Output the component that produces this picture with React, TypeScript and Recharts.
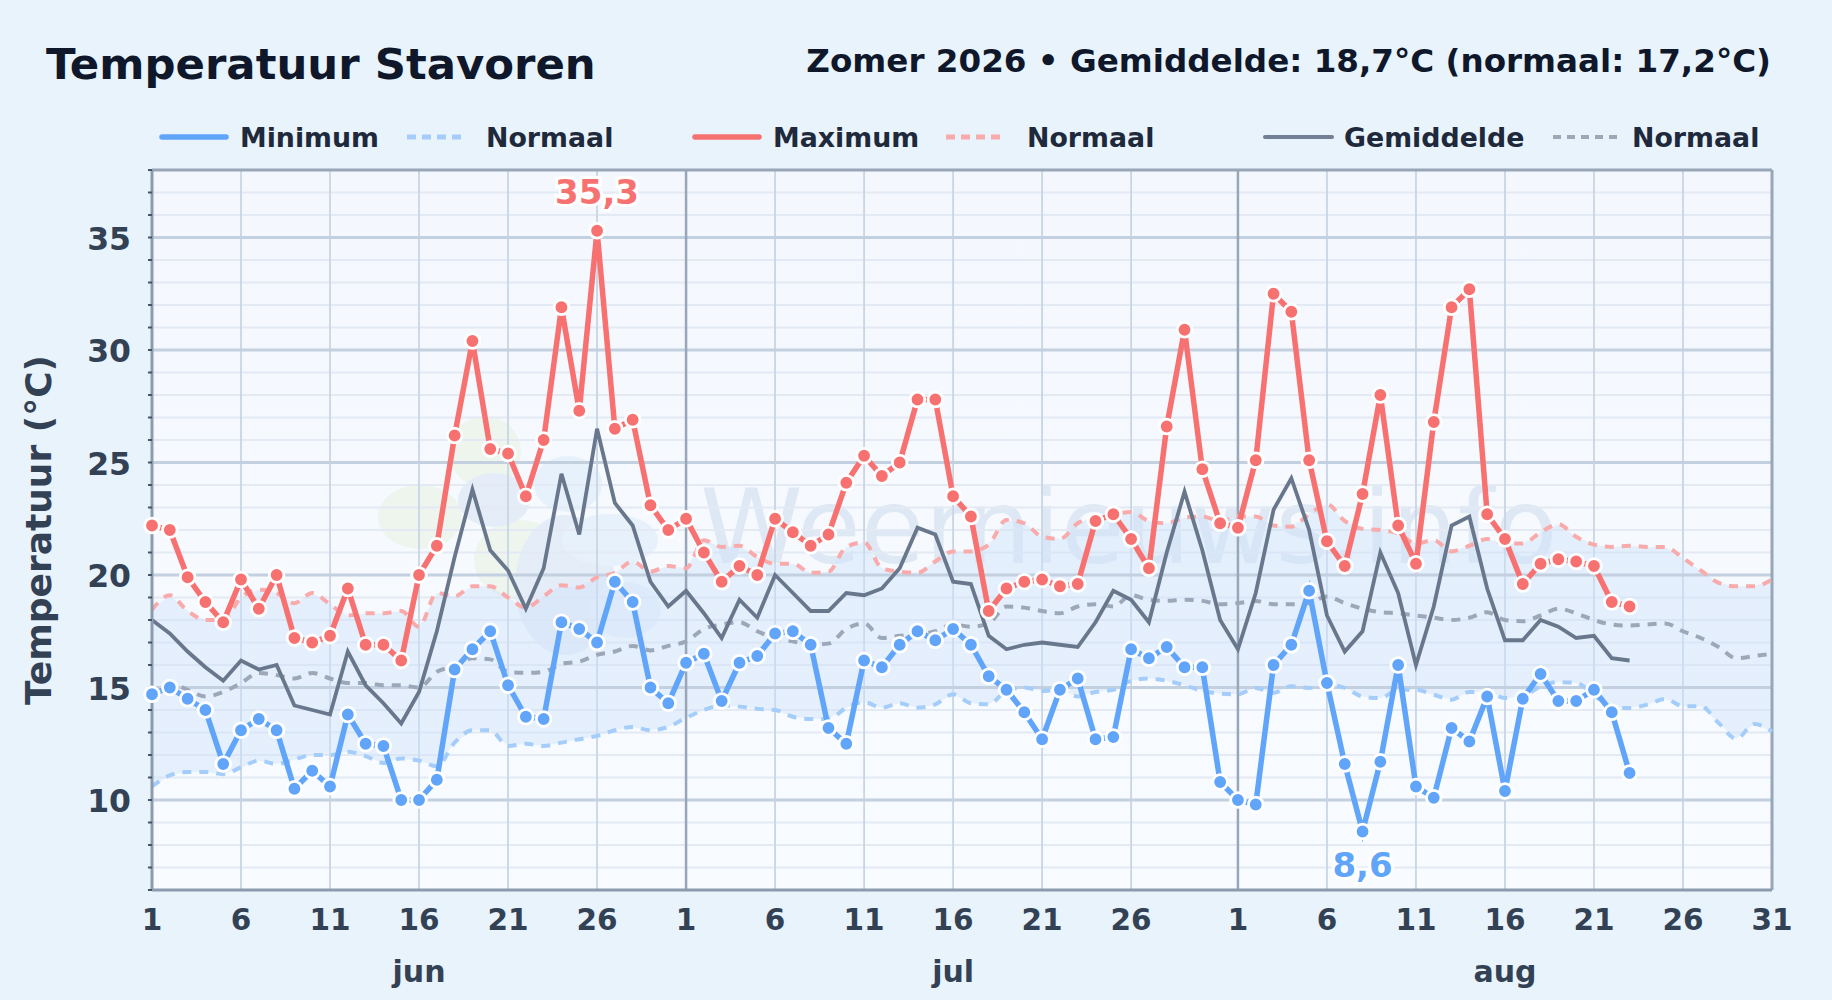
import React from "react";
import { ComposedChart, Area, Line, XAxis, YAxis, CartesianGrid, ReferenceLine } from "recharts";

const FONT = '"DejaVu Sans", sans-serif';

const minValues = [
  14.7, 15.0, 14.5, 14.0, 11.6, 13.1, 13.6, 13.1, 10.5, 11.3, 10.6, 13.8, 12.5, 12.4, 10.0, 10.0, 10.9, 15.8, 16.7, 17.5, 15.1, 13.7, 13.6, 17.9, 17.6, 17.0, 19.7, 18.8, 15.0, 14.3,
  16.1, 16.5, 14.4, 16.1, 16.4, 17.4, 17.5, 16.9, 13.2, 12.5, 16.2, 15.9, 16.9, 17.5, 17.1, 17.6, 16.9, 15.5, 14.9, 13.9, 12.7, 14.9, 15.4, 12.7, 12.8, 16.7, 16.3, 16.8, 15.9, 15.9, 10.8,
  10.0, 9.8, 16.0, 16.9, 19.3, 15.2, 11.6, 8.6, 11.7, 16.0, 10.6, 10.1, 13.2, 12.6, 14.6, 10.4, 14.5, 15.6, 14.4, 14.4, 14.9, 13.9, 11.2,
  null, null, null, null, null, null, null, null,
];
const maxValues = [
  22.2, 22.0, 19.9, 18.8, 17.9, 19.8, 18.5, 20.0, 17.2, 17.0, 17.3, 19.4, 16.9, 16.9, 16.2, 20.0, 21.3, 26.2, 30.4, 25.6, 25.4, 23.5, 26.0, 31.9, 27.3, 35.3, 26.5, 26.9, 23.1, 22.0,
  22.5, 21.0, 19.7, 20.4, 20.0, 22.5, 21.9, 21.3, 21.8, 24.1, 25.3, 24.4, 25.0, 27.8, 27.8, 23.5, 22.6, 18.4, 19.4, 19.7, 19.8, 19.5, 19.6, 22.4, 22.7, 21.6, 20.3, 26.6, 30.9, 24.7, 22.3,
  22.1, 25.1, 32.5, 31.7, 25.1, 21.5, 20.4, 23.6, 28.0, 22.2, 20.5, 26.8, 31.9, 32.7, 22.7, 21.6, 19.6, 20.5, 20.7, 20.6, 20.4, 18.8, 18.6,
  null, null, null, null, null, null, null, null,
];
const meanValues = [
  18.0, 17.4, 16.6, 15.9, 15.3, 16.2, 15.8, 16.0, 14.2, 14.0, 13.8, 16.6, 15.1, 14.3, 13.4, 14.8, 17.5, 20.8, 23.8, 21.1, 20.2, 18.5, 20.3, 24.5, 21.8, 26.5, 23.2, 22.2, 19.7, 18.6,
  19.3, 18.3, 17.2, 18.9, 18.1, 20.0, 19.2, 18.4, 18.4, 19.2, 19.1, 19.4, 20.3, 22.1, 21.8, 19.7, 19.6, 17.3, 16.7, 16.9, 17.0, 16.9, 16.8, 17.9, 19.3, 18.9, 17.9, 21.0, 23.7, 21.1, 18.0,
  16.7, 19.2, 22.9, 24.3, 22.0, 18.2, 16.6, 17.5, 21.0, 19.2, 16.0, 18.6, 22.2, 22.6, 19.4, 17.1, 17.1, 18.0, 17.7, 17.2, 17.3, 16.3, 16.2,
  null, null, null, null, null, null, null, null,
];
const normalMin = [
  10.6, 11.1, 11.25, 11.25, 11.15, 11.45, 11.75, 11.6, 11.8, 12.0, 12.0, 12.15, 11.95, 11.65, 11.85, 11.75, 11.5, 12.55, 13.1, 13.1, 12.4, 12.5, 12.4, 12.55, 12.7, 12.85, 13.1, 13.25, 13.1, 13.25,
  13.65, 14.0, 14.2, 14.15, 14.05, 14.0, 13.7, 13.6, 13.6, 14.1, 14.35, 14.1, 14.3, 14.1, 14.25, 14.7, 14.3, 14.25, 14.85, 15.0, 14.85, 14.9, 14.6, 14.8, 14.9, 15.3, 15.4, 15.3, 15.1, 14.85, 14.73,
  14.7, 14.98, 14.76, 15.06, 14.98, 15.13, 14.98, 14.6, 14.53, 14.9, 14.9, 14.68, 14.46, 14.8, 14.8, 14.53, 14.6, 15.06, 15.24, 15.2, 14.68, 14.09, 14.09, 14.24, 14.49, 14.17, 14.17, 13.42, 12.72, 13.38, 13.05,
];
const normalMax = [
  18.46, 19.1, 18.4, 18.0, 18.0, 19.0, 19.35, 19.2, 18.75, 19.2, 18.7, 18.2, 18.3, 18.3, 18.4, 17.7, 19.2, 19.05, 19.5, 19.5, 19.0, 18.55, 19.05, 19.55, 19.45, 19.9, 20.1, 20.6, 20.15, 20.4,
  20.3, 21.55, 21.25, 21.3, 20.8, 20.5, 20.5, 20.1, 20.15, 21.25, 21.45, 20.3, 20.15, 20.1, 20.6, 21.05, 21.05, 21.35, 22.45, 22.3, 21.7, 21.6, 22.3, 22.6, 22.7, 22.8, 22.4, 22.3, 22.55, 22.6, 22.4,
  22.6, 22.6, 22.2, 22.15, 22.7, 23.15, 22.4, 22.05, 22.0, 21.85, 21.4, 21.55, 21.05, 21.3, 21.6, 21.4, 21.4, 21.9, 22.25, 21.7, 21.35, 21.25, 21.3, 21.25, 21.25, 20.75, 20.2, 19.65, 19.5, 19.5, 19.8,
];
const normalMean = [
  14.7, 15.2, 14.9, 14.6, 14.8, 15.2, 15.65, 15.55, 15.4, 15.65, 15.4, 15.2, 15.2, 15.1, 15.1, 15.0, 15.7, 15.95, 16.3, 16.25, 15.7, 15.65, 15.7, 16.05, 16.15, 16.45, 16.6, 16.85, 16.65, 16.85,
  17.05, 17.6, 17.8, 17.9, 17.5, 17.2, 17.05, 16.9, 16.95, 17.6, 17.85, 17.2, 17.3, 17.35, 17.5, 17.8, 17.7, 17.85, 18.6, 18.55, 18.4, 18.3, 18.6, 18.7, 18.6, 19.1, 18.9, 18.85, 18.9, 18.85, 18.7,
  18.75, 18.85, 18.7, 18.7, 18.75, 19.05, 18.75, 18.5, 18.35, 18.3, 18.2, 18.1, 18.0, 18.1, 18.35, 18.0, 17.95, 18.2, 18.5, 18.3, 18.0, 17.8, 17.75, 17.8, 17.85, 17.5, 17.2, 16.8, 16.3, 16.4, 16.5,
];

const xTicks = [0, 5, 10, 15, 20, 25, 30, 35, 40, 45, 50, 55, 61, 66, 71, 76, 81, 86, 91];
const xLabels = ["1", "6", "11", "16", "21", "26", "1", "6", "11", "16", "21", "26", "1", "6", "11", "16", "21", "26", "31"];
const monthTicks = [15, 45, 76];
const monthLabels = ["jun", "jul", "aug"];
const monthStarts = [30, 61];
const yTicks = [6, 7, 8, 9, 10, 11, 12, 13, 14, 15, 16, 17, 18, 19, 20, 21, 22, 23, 24, 25, 26, 27, 28, 29, 30, 31, 32, 33, 34, 35, 36, 37, 38];
const yMajor = [10, 15, 20, 25, 30, 35];

const rows = normalMin.map((n, i) => ({
  i,
  band: [n, normalMax[i]],
  nMin: n,
  nMax: normalMax[i],
  nMean: normalMean[i],
  min: minValues[i],
  max: maxValues[i],
  mean: meanValues[i],
}));

const C_MIN = "#60a5fa";
const C_MAX = "#f87171";
const C_MEAN = "#68778c";
const C_NMIN = "#a5cdf9";
const C_NMAX = "#f9aaaa";
const C_NMEAN = "#9ca8b8";

const legendItems = [
  { x1: 162, x2: 226, tx: 240, label: "Minimum", color: C_MIN, w: 5.5, dash: undefined },
  { x1: 407, x2: 465, tx: 486, label: "Normaal", color: C_NMIN, w: 5, dash: "9 6" },
  { x1: 695, x2: 759, tx: 773, label: "Maximum", color: C_MAX, w: 5.5, dash: undefined },
  { x1: 946, x2: 1005, tx: 1027, label: "Normaal", color: C_NMAX, w: 5, dash: "9 6" },
  { x1: 1265, x2: 1332, tx: 1344, label: "Gemiddelde", color: "#718096", w: 4, dash: undefined },
  { x1: 1553, x2: 1619, tx: 1632, label: "Normaal", color: C_NMEAN, w: 4, dash: "8 6" },
];

const extremeLabel = (target: number, color: string, dy: number) => (p: any) => {
  if (p.index !== target) return null;
  return (
    <text
      x={p.x}
      y={p.y + dy}
      textAnchor="middle"
      fontFamily={FONT}
      fontWeight={700}
      fontSize={34}
      fill={color}
      stroke="#ffffff"
      strokeWidth={6}
      paintOrder="stroke"
    >
      {p.value.toString().replace(".", ",")}
    </text>
  );
};

const dotOf = (fill: string) => ({ r: 7.3, fill, stroke: "#ffffff", strokeWidth: 2.8 });

export default function App() {
  return (
    <div style={{ position: "absolute", left: 0, top: 0, width: 1832, height: 1000, background: "#e8f3fc", overflow: "hidden", fontFamily: FONT }}>
      <svg width={1832} height={1000} style={{ position: "absolute", left: 0, top: 0 }}>
        <defs>
          <linearGradient id="plotBg" x1="0" y1="0" x2="0" y2="1">
            <stop offset="0" stopColor="#f4f8fe" />
            <stop offset="1" stopColor="#f8fbff" />
          </linearGradient>
        </defs>
        <rect x={152} y={170} width={1620} height={720} fill="url(#plotBg)" />
        <g opacity={0.6}>
          <ellipse cx={420} cy={517} rx={42} ry={32} fill="#e9f3e3" />
          <ellipse cx={485} cy={452} rx={36} ry={36} fill="#e9f3e3" />
          <ellipse cx={520} cy={560} rx={46} ry={40} fill="#e9f3e3" />
          <ellipse cx={494} cy={500} rx={36} ry={27} fill="#d9e6f4" />
          <ellipse cx={568} cy={484} rx={34} ry={28} fill="#deecfb" />
          <ellipse cx={565} cy={585} rx={50} ry={70} fill="#d9e6f4" />
          <ellipse cx={610} cy={540} rx={48} ry={26} fill="#deecfb" />
          <ellipse cx={625} cy={610} rx={36} ry={28} fill="#deecfb" />
        </g>
        <text x={700} y={563} fontFamily={FONT} fontSize={104} fill="#5b8bc0" opacity={0.15} fontWeight={400}>Weernieuws.info</text>
      </svg>

      <div style={{ position: "absolute", left: 0, top: 0 }}>
        <ComposedChart width={1832} height={1000} data={rows} margin={{ top: 170, right: 60, bottom: 0, left: 52 }}>
          <CartesianGrid horizontal={true} vertical={false} stroke="#e3eaf3" strokeWidth={2} />
          <CartesianGrid horizontal={false} vertical={true} stroke="#c8d5e5" strokeWidth={1.8} />
          {yMajor.map((v) => (
            <ReferenceLine key={v} y={v} stroke="#c3d0e0" strokeWidth={3} />
          ))}
          {monthStarts.map((v) => (
            <ReferenceLine key={v} x={v} stroke="#98a6b8" strokeWidth={2.5} />
          ))}
          <ReferenceLine y={38} stroke="#98a6b8" strokeWidth={3} />
          <ReferenceLine x={91} stroke="#98a6b8" strokeWidth={3} />
          <XAxis
            dataKey="i"
            type="number"
            domain={[0, 91]}
            ticks={xTicks}
            interval={0}
            height={60}
            tickLine={false}
            axisLine={{ stroke: "#8d9bae", strokeWidth: 3 }}
            tickFormatter={(v: number) => xLabels[xTicks.indexOf(v)]}
            tick={{ fontFamily: FONT, fontWeight: 700, fontSize: 29.5, fill: "#334155" }}
            tickMargin={13}
          />
          <XAxis
            xAxisId="month"
            dataKey="i"
            type="number"
            domain={[0, 91]}
            ticks={monthTicks}
            interval={0}
            height={50}
            tickLine={false}
            axisLine={false}
            tickMargin={5}
            tickFormatter={(v: number) => monthLabels[monthTicks.indexOf(v)]}
            tick={{ fontFamily: FONT, fontWeight: 700, fontSize: 30, fill: "#334155" }}
          />
          <YAxis
            type="number"
            domain={[6, 38]}
            ticks={yTicks}
            interval={0}
            width={100}
            tickSize={4}
            tickLine={{ stroke: "#475569", strokeWidth: 2 }}
            axisLine={{ stroke: "#8d9bae", strokeWidth: 3 }}
            tickFormatter={(v: number) => (yMajor.includes(v) ? String(v) : "")}
            tick={{ fontFamily: FONT, fontWeight: 700, fontSize: 31.5, fill: "#334155", dy: 1 }}
            tickMargin={17}
            label={{
              value: "Temperatuur (°C)",
              angle: -90,
              position: "insideLeft",
              dx: -19,
              dy: 0,
              style: { fontFamily: FONT, fontWeight: 700, fontSize: 36, fill: "#334155", textAnchor: "middle" },
            }}
          />
          <Area dataKey="band" stroke="none" fill="#cfe3fb" fillOpacity={0.45} isAnimationActive={false} activeDot={false} />
          <Line dataKey="nMin" type="monotone" stroke={C_NMIN} strokeWidth={4} strokeDasharray="9 8" dot={false} isAnimationActive={false} />
          <Line dataKey="nMax" type="monotone" stroke={C_NMAX} strokeWidth={4} strokeDasharray="9 8" dot={false} isAnimationActive={false} />
          <Line dataKey="nMean" type="monotone" stroke={C_NMEAN} strokeWidth={4} strokeDasharray="9 8" dot={false} isAnimationActive={false} />
          <Line dataKey="mean" type="linear" stroke={C_MEAN} strokeWidth={3.8} dot={false} isAnimationActive={false} />
          <Line
            dataKey="min"
            type="linear"
            stroke={C_MIN}
            strokeWidth={5.5}
            dot={dotOf(C_MIN)}
            label={extremeLabel(68, C_MIN, 45)}
            isAnimationActive={false}
          />
          <Line
            dataKey="max"
            type="linear"
            stroke={C_MAX}
            strokeWidth={5.5}
            dot={dotOf(C_MAX)}
            label={extremeLabel(25, C_MAX, -27)}
            isAnimationActive={false}
          />
        </ComposedChart>
      </div>

      <svg width={1832} height={1000} style={{ position: "absolute", left: 0, top: 0, pointerEvents: "none" }}>
        <text x={46} y={79} fontFamily={FONT} fontWeight={700} fontSize={43.4} fill="#0f172a">Temperatuur Stavoren</text>
        <text x={1771} y={72} textAnchor="end" fontFamily={FONT} fontWeight={700} fontSize={32.6} fill="#0f172a">Zomer 2026 • Gemiddelde: 18,7°C (normaal: 17,2°C)</text>
        {legendItems.map((it, k) => (
          <g key={k}>
            <line x1={it.x1} x2={it.x2} y1={137} y2={137} stroke={it.color} strokeWidth={it.w} strokeDasharray={it.dash} strokeLinecap={it.dash ? "butt" : "round"} />
            <text x={it.tx} y={147} fontFamily={FONT} fontWeight={700} fontSize={26.8} fill="#1e293b">{it.label}</text>
          </g>
        ))}
      </svg>
    </div>
  );
}
